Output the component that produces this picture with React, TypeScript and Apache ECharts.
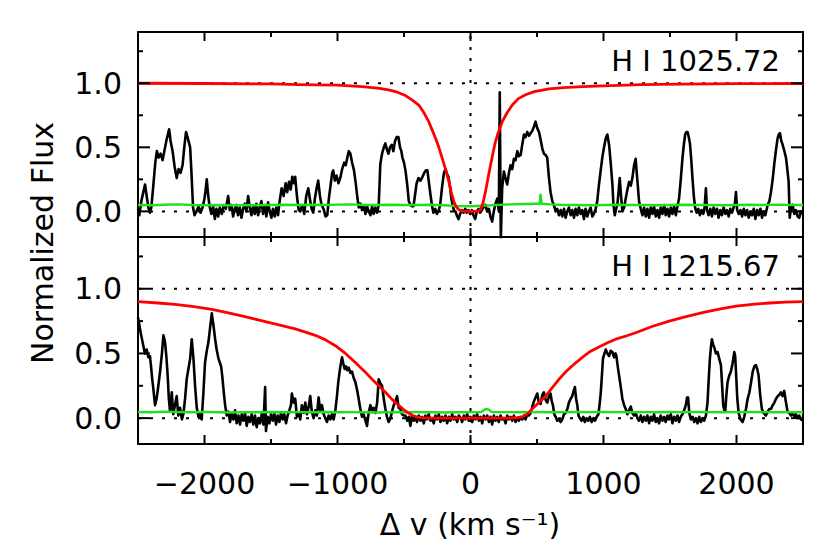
import React, { useEffect, useRef } from "react";
import * as echarts from "echarts";

// ---- Data ----
const xMajorTicks = [-2000, -1000, 0, 1000, 2000];
const xMinorTicks = [-1500, -500, 500, 1500];
const yMajorTicks = [0, 0.5, 1.0];
const yMinorTicks = [0.25, 0.75, 1.25];

const topLabel = "H I 1025.72";
const bottomLabel = "H I 1215.67";

// H I 1025.72 (Ly-beta) observed flux
const lybFlux = [
  [-2500, 0.02], [-2490, -0.03], [-2475, 0.08], [-2460, 0.15], [-2447, 0.21], [-2435, 0.12], [-2420, 0.02], [-2410, -0.01],
  [-2400, 0.03], [-2385, 0.2], [-2370, 0.38], [-2358, 0.47], [-2345, 0.42], [-2330, 0.45], [-2315, 0.4], [-2300, 0.48],
  [-2285, 0.56], [-2266, 0.64], [-2255, 0.55], [-2240, 0.47], [-2225, 0.35], [-2209, 0.26], [-2195, 0.33], [-2180, 0.3],
  [-2165, 0.36], [-2152, 0.5], [-2139, 0.62], [-2125, 0.57], [-2108, 0.5], [-2098, 0.3], [-2086, 0.03], [-2075, -0.03],
  [-2060, 0.0], [-2045, 0.04], [-2030, -0.01], [-2015, 0.03], [-2000, 0.1], [-1990, 0.18], [-1983, 0.25], [-1972, 0.12],
  [-1960, 0.03], [-1948, -0.02], [-1935, 0.04], [-1922, -0.06], [-1910, 0.02], [-1897, -0.04], [-1885, 0.03], [-1870, -0.02],
  [-1855, 0.05], [-1840, 0.02], [-1822, 0.12], [-1810, 0.01], [-1797, 0.05], [-1785, -0.04], [-1772, 0.02], [-1760, 0.05],
  [-1748, -0.03], [-1735, 0.03], [-1722, -0.05], [-1710, 0.02], [-1697, 0.06], [-1685, 0.0], [-1672, 0.12], [-1660, 0.03],
  [-1647, -0.03], [-1635, 0.04], [-1622, -0.02], [-1610, 0.06], [-1597, -0.03], [-1585, 0.03], [-1572, 0.08], [-1560, -0.02],
  [-1547, 0.05], [-1535, -0.04], [-1522, 0.07], [-1510, 0.0], [-1497, -0.05], [-1485, 0.02], [-1472, -0.04], [-1460, 0.03],
  [-1447, -0.03], [-1435, 0.08], [-1420, 0.18], [-1405, 0.12], [-1390, 0.22], [-1378, 0.15], [-1365, 0.23], [-1352, 0.17],
  [-1340, 0.27], [-1328, 0.22], [-1318, 0.27], [-1305, 0.12], [-1292, 0.01], [-1280, 0.0], [-1265, 0.05], [-1250, -0.02],
  [-1235, 0.12], [-1220, 0.18], [-1208, 0.1], [-1195, 0.02], [-1182, -0.01], [-1170, 0.1], [-1157, 0.18], [-1145, 0.24],
  [-1132, 0.12], [-1120, 0.05], [-1105, 0.02], [-1090, -0.04], [-1077, -0.03], [-1065, 0.1], [-1050, 0.22], [-1040, 0.3],
  [-1032, 0.32], [-1020, 0.24], [-1007, 0.28], [-993, 0.22], [-979, 0.26], [-965, 0.33], [-950, 0.38], [-938, 0.36],
  [-926, 0.42], [-915, 0.47], [-903, 0.45], [-890, 0.38], [-876, 0.32], [-863, 0.22], [-851, 0.11], [-840, 0.03],
  [-828, 0.06], [-815, 0.01], [-803, 0.05], [-790, -0.02], [-778, 0.04], [-765, 0.0], [-752, -0.03], [-740, 0.04],
  [-728, -0.02], [-715, 0.03], [-703, -0.01], [-690, 0.05], [-678, 0.37], [-665, 0.45], [-652, 0.5], [-640, 0.53],
  [-628, 0.48], [-617, 0.45], [-605, 0.5], [-592, 0.52], [-580, 0.47], [-567, 0.55], [-555, 0.58], [-542, 0.58],
  [-530, 0.5], [-520, 0.47], [-512, 0.42], [-500, 0.38], [-489, 0.32], [-475, 0.2], [-464, 0.08], [-452, 0.05],
  [-440, 0.04], [-429, 0.04], [-418, 0.12], [-405, 0.22], [-391, 0.26], [-376, 0.24], [-361, 0.27], [-348, 0.3],
  [-336, 0.32], [-324, 0.32], [-312, 0.22], [-301, 0.13], [-290, 0.05], [-279, -0.01], [-265, 0.02], [-253, -0.02],
  [-241, 0.0], [-228, 0.05], [-215, 0.18], [-200, 0.3], [-188, 0.33], [-176, 0.29], [-166, 0.27], [-155, 0.2],
  [-145, 0.11], [-133, 0.04], [-122, 0.0], [-113, 0.0], [-100, -0.04], [-90, -0.06], [-78, -0.02], [-65, 0.01],
  [-52, -0.01], [-40, 0.02], [-28, -0.01], [-15, 0.01], [-3, -0.02], [10, 0.01], [22, -0.03], [35, -0.06],
  [48, 0.0], [60, 0.02], [72, -0.01], [85, 0.01], [98, 0.03], [113, 0.05], [125, 0.0], [138, 0.02],
  [150, -0.04], [163, -0.08], [175, 0.0], [188, 0.06], [201, 0.1], [213, 0.0], [220, 0.93], [228, -0.22],
  [238, 0.18], [251, 0.31], [263, 0.26], [276, 0.21], [289, 0.3], [301, 0.36], [314, 0.33], [326, 0.41],
  [339, 0.4], [352, 0.47], [364, 0.43], [377, 0.44], [389, 0.52], [402, 0.6], [414, 0.58], [427, 0.62],
  [440, 0.59], [452, 0.61], [465, 0.63], [477, 0.66], [489, 0.7], [502, 0.65], [515, 0.62], [527, 0.56],
  [540, 0.49], [552, 0.45], [565, 0.44], [577, 0.42], [590, 0.26], [602, 0.15], [615, 0.08], [627, 0.05],
  [640, 0.0], [652, 0.02], [665, -0.03], [678, 0.01], [690, -0.04], [703, 0.02], [715, -0.05], [728, 0.0],
  [740, 0.03], [753, -0.03], [765, 0.01], [778, -0.05], [790, 0.02], [803, -0.03], [815, 0.03], [828, -0.02],
  [840, 0.01], [853, -0.06], [865, 0.02], [878, -0.04], [890, 0.0], [903, 0.03], [916, -0.04], [928, -0.02],
  [941, 0.02], [953, 0.08], [966, 0.21], [979, 0.32], [991, 0.42], [1004, 0.5], [1017, 0.57], [1029, 0.6],
  [1042, 0.52], [1054, 0.38], [1067, 0.21], [1075, 0.05], [1085, -0.03], [1095, 0.02], [1104, 0.05], [1113, 0.15],
  [1122, 0.26], [1132, 0.12], [1142, 0.0], [1155, 0.03], [1167, 0.1], [1180, 0.17], [1192, 0.23], [1205, 0.2],
  [1217, 0.26], [1230, 0.36], [1242, 0.41], [1250, 0.3], [1258, 0.2], [1267, 0.08], [1280, 0.02], [1293, -0.03],
  [1305, 0.03], [1318, -0.04], [1330, 0.02], [1343, -0.05], [1355, 0.03], [1368, -0.02], [1380, 0.04], [1393, -0.04],
  [1405, 0.01], [1418, -0.05], [1430, 0.03], [1443, -0.02], [1456, 0.05], [1468, -0.03], [1481, 0.02], [1493, -0.04],
  [1506, 0.03], [1518, -0.02], [1531, 0.04], [1544, -0.03], [1556, 0.04], [1568, 0.1], [1581, 0.25], [1594, 0.42],
  [1604, 0.52], [1614, 0.6], [1623, 0.62], [1632, 0.62], [1641, 0.58], [1650, 0.53], [1660, 0.4], [1669, 0.26],
  [1679, 0.12], [1689, 0.03], [1700, -0.01], [1713, 0.02], [1725, -0.03], [1737, 0.01], [1750, -0.02], [1760, 0.03],
  [1770, 0.18], [1778, 0.01], [1790, -0.03], [1803, 0.02], [1815, -0.04], [1828, 0.03], [1840, -0.02], [1853, 0.02],
  [1865, -0.05], [1878, 0.01], [1890, -0.03], [1903, 0.03], [1916, -0.02], [1928, 0.01], [1941, -0.04], [1953, 0.02],
  [1966, -0.01], [1978, 0.03], [1988, 0.06], [1996, 0.15], [2005, 0.01], [2017, -0.02], [2030, 0.01], [2042, -0.04],
  [2055, 0.02], [2067, -0.03], [2080, 0.01], [2092, -0.05], [2105, 0.0], [2117, -0.03], [2130, 0.02], [2142, -0.06],
  [2155, 0.01], [2167, -0.03], [2180, 0.02], [2192, -0.05], [2205, 0.0], [2217, -0.03], [2234, 0.05], [2247, 0.08],
  [2259, 0.15], [2272, 0.25], [2284, 0.37], [2297, 0.48], [2309, 0.57], [2318, 0.6], [2327, 0.61], [2337, 0.55],
  [2347, 0.52], [2360, 0.47], [2372, 0.42], [2382, 0.33], [2392, 0.23], [2400, -0.05], [2410, 0.03], [2422, 0.05],
  [2435, -0.02], [2447, 0.01], [2460, -0.04], [2472, -0.05], [2485, 0.0], [2500, -0.02],
];

// Ly-beta flux error
const lybError = [
  [-2500, 0.05], [-2400, 0.048], [-2300, 0.052], [-2200, 0.055], [-2100, 0.05], [-2000, 0.048], [-1900, 0.05],
  [-1800, 0.047], [-1700, 0.05], [-1600, 0.048], [-1500, 0.05], [-1400, 0.052], [-1300, 0.05], [-1200, 0.052],
  [-1100, 0.05], [-1000, 0.053], [-900, 0.055], [-800, 0.05], [-700, 0.05], [-600, 0.052], [-500, 0.05],
  [-400, 0.05], [-300, 0.052], [-200, 0.048], [-100, 0.042], [0, 0.04], [100, 0.045], [200, 0.05], [300, 0.055],
  [400, 0.058], [500, 0.06], [520, 0.06], [527, 0.13], [535, 0.06], [600, 0.055], [700, 0.05], [800, 0.05],
  [900, 0.048], [1000, 0.05], [1100, 0.052], [1200, 0.05], [1300, 0.05], [1400, 0.048], [1500, 0.05],
  [1600, 0.052], [1700, 0.05], [1800, 0.05], [1900, 0.048], [2000, 0.05], [2100, 0.052], [2200, 0.05],
  [2300, 0.053], [2400, 0.05], [2500, 0.05],
];

// Ly-beta model
const lybModel = [
  [-2500, 1.0], [-2000, 0.998], [-1500, 0.995], [-1300, 0.99], [-1000, 0.985], [-815, 0.974], [-700, 0.962], [-615, 0.948],
  [-550, 0.93], [-489, 0.904], [-440, 0.87], [-389, 0.83], [-350, 0.77], [-314, 0.7], [-290, 0.64], [-263, 0.57], [-238, 0.5],
  [-213, 0.415], [-188, 0.33], [-163, 0.234], [-145, 0.15], [-126, 0.078], [-110, 0.04], [-88, 0.013], [-60, 0.002],
  [-30, 0.0], [0, 0.0], [40, 0.0], [60, 0.004], [75, 0.013], [95, 0.07], [113, 0.156], [132, 0.26], [151, 0.363], [170, 0.46],
  [188, 0.545], [210, 0.62], [239, 0.7], [275, 0.77], [314, 0.83], [360, 0.88], [414, 0.91], [480, 0.935],
  [590, 0.956], [700, 0.966], [841, 0.974], [1000, 0.98], [1280, 0.99], [1600, 0.993], [2000, 0.997], [2500, 0.998],
];

// H I 1215.67 (Ly-alpha) observed flux
const lyaFlux = [
  [-2500, 0.78], [-2490, 0.72], [-2478, 0.65], [-2468, 0.6], [-2460, 0.56], [-2448, 0.5], [-2435, 0.53], [-2422, 0.47],
  [-2410, 0.48], [-2402, 0.4], [-2393, 0.3], [-2385, 0.23], [-2372, 0.1], [-2360, 0.15], [-2347, 0.25], [-2334, 0.36],
  [-2320, 0.5], [-2309, 0.64], [-2297, 0.59], [-2287, 0.48], [-2277, 0.33], [-2268, 0.15], [-2259, 0.05], [-2246, 0.2],
  [-2235, 0.03], [-2222, 0.1], [-2209, 0.17], [-2197, 0.02], [-2184, 0.08], [-2170, -0.01], [-2159, 0.03], [-2146, 0.15],
  [-2134, 0.3], [-2121, 0.38], [-2108, 0.46], [-2096, 0.61], [-2083, 0.46], [-2071, 0.25], [-2058, 0.08], [-2046, 0.01],
  [-2034, 0.03], [-2021, -0.01], [-2008, 0.2], [-1996, 0.43], [-1983, 0.52], [-1970, 0.59], [-1958, 0.7], [-1945, 0.81],
  [-1933, 0.72], [-1920, 0.61], [-1907, 0.52], [-1895, 0.46], [-1885, 0.43], [-1875, 0.4], [-1866, 0.32], [-1858, 0.23],
  [-1845, 0.1], [-1833, 0.02], [-1820, 0.05], [-1808, -0.03], [-1795, 0.04], [-1783, -0.01], [-1770, 0.06], [-1758, -0.04],
  [-1745, 0.02], [-1733, -0.05], [-1720, 0.03], [-1708, -0.02], [-1695, 0.04], [-1683, -0.06], [-1670, 0.01], [-1658, -0.03],
  [-1645, 0.03], [-1633, -0.05], [-1620, 0.02], [-1608, -0.07], [-1595, 0.0], [-1583, -0.04], [-1570, 0.03], [-1557, -0.05],
  [-1544, 0.24], [-1538, -0.1], [-1525, 0.01], [-1512, -0.04], [-1500, 0.03], [-1487, -0.02], [-1475, 0.04], [-1462, -0.05],
  [-1450, 0.02], [-1437, -0.03], [-1425, 0.04], [-1412, -0.01], [-1400, 0.03], [-1387, -0.04], [-1375, 0.02], [-1362, 0.06],
  [-1350, 0.1], [-1343, 0.19], [-1330, 0.12], [-1318, 0.15], [-1305, 0.01], [-1292, 0.04], [-1280, -0.01], [-1268, 0.1],
  [-1255, 0.04], [-1242, 0.12], [-1230, 0.03], [-1218, 0.08], [-1205, 0.17], [-1193, 0.05], [-1180, 0.0], [-1167, 0.06],
  [-1155, 0.02], [-1142, 0.16], [-1130, 0.06], [-1117, 0.1], [-1104, 0.03], [-1092, 0.0], [-1079, -0.03], [-1067, 0.02],
  [-1054, -0.01], [-1042, 0.03], [-1029, -0.01], [-1016, 0.06], [-1004, 0.17], [-994, 0.28], [-984, 0.36], [-975, 0.42],
  [-966, 0.47], [-956, 0.42], [-946, 0.38], [-936, 0.4], [-926, 0.37], [-916, 0.39], [-903, 0.35], [-891, 0.36],
  [-878, 0.31], [-866, 0.28], [-853, 0.22], [-841, 0.15], [-828, 0.07], [-816, 0.01], [-803, 0.03], [-790, -0.02],
  [-778, -0.06], [-766, 0.04], [-753, 0.1], [-741, 0.06], [-728, 0.08], [-715, 0.04], [-702, 0.12], [-690, 0.3],
  [-678, 0.27], [-665, 0.25], [-652, 0.15], [-640, 0.07], [-628, 0.01], [-615, -0.03], [-602, 0.0], [-590, 0.05],
  [-577, 0.1], [-565, 0.13], [-552, 0.17], [-540, 0.08], [-527, 0.07], [-515, 0.03], [-502, 0.02], [-489, 0.02],
  [-476, -0.02], [-464, 0.01], [-452, -0.06], [-440, 0.02], [-427, -0.02], [-414, 0.01], [-402, -0.03], [-389, 0.02],
  [-376, -0.02], [-364, 0.01], [-351, -0.04], [-339, 0.02], [-326, -0.01], [-314, 0.03], [-301, -0.02], [-289, 0.0],
  [-276, -0.04], [-264, 0.02], [-251, -0.01], [-238, 0.03], [-226, -0.03], [-213, 0.01], [-201, -0.02], [-188, 0.02],
  [-176, -0.04], [-163, 0.01], [-151, -0.02], [-138, 0.03], [-126, -0.01], [-113, 0.01], [-100, -0.03], [-88, 0.02],
  [-75, 0.0], [-63, -0.03], [-50, 0.02], [-38, -0.01], [-25, 0.03], [-13, -0.02], [0, 0.01], [13, -0.03],
  [25, 0.02], [38, -0.01], [50, 0.03], [63, -0.02], [75, 0.01], [88, -0.04], [100, 0.02], [113, -0.01],
  [126, 0.02], [138, -0.03], [151, 0.01], [163, -0.05], [176, 0.02], [188, -0.02], [201, 0.01], [213, -0.03],
  [226, 0.02], [238, -0.01], [251, 0.0], [264, -0.04], [276, 0.02], [289, -0.01], [301, 0.01], [314, -0.02],
  [326, 0.02], [339, -0.03], [351, 0.0], [364, -0.02], [376, 0.01], [389, -0.01], [401, 0.02], [414, -0.01],
  [427, 0.03], [439, 0.02], [452, 0.04], [464, 0.085], [477, 0.13], [489, 0.16], [502, 0.19], [514, 0.12],
  [527, 0.11], [540, 0.18], [552, 0.2], [565, 0.14], [577, 0.12], [590, 0.17], [602, 0.19], [611, 0.13],
  [620, 0.1], [630, 0.03], [640, 0.01], [652, -0.02], [665, -0.01], [678, -0.03], [690, -0.01], [703, 0.03],
  [715, 0.04], [728, 0.07], [740, 0.12], [753, 0.15], [765, 0.17], [775, 0.21], [785, 0.24], [794, 0.15],
  [803, 0.1], [812, 0.02], [822, 0.0], [835, -0.02], [848, 0.01], [860, -0.03], [873, 0.0], [886, -0.02],
  [898, 0.01], [911, -0.03], [924, 0.0], [936, -0.02], [949, 0.01], [962, 0.03], [970, 0.1], [979, 0.19],
  [988, 0.33], [996, 0.46], [1007, 0.5], [1017, 0.53], [1029, 0.5], [1042, 0.48], [1054, 0.52], [1067, 0.51],
  [1080, 0.47], [1090, 0.5], [1097, 0.48], [1107, 0.4], [1117, 0.33], [1130, 0.24], [1142, 0.15], [1155, 0.1],
  [1167, 0.07], [1180, 0.03], [1192, 0.06], [1205, 0.09], [1217, 0.04], [1230, 0.02], [1242, 0.04], [1255, 0.0],
  [1267, -0.02], [1280, 0.02], [1292, -0.03], [1305, 0.01], [1318, -0.02], [1330, 0.02], [1343, -0.04], [1355, 0.01],
  [1368, -0.02], [1380, 0.03], [1393, -0.03], [1405, 0.0], [1418, -0.04], [1430, 0.02], [1443, -0.02], [1456, 0.01],
  [1468, -0.03], [1481, 0.02], [1493, -0.01], [1506, 0.03], [1518, -0.04], [1531, 0.01], [1544, -0.02], [1556, 0.02],
  [1568, -0.03], [1581, 0.01], [1594, 0.03], [1606, 0.06], [1619, 0.1], [1628, 0.16], [1636, 0.16], [1645, 0.04],
  [1657, -0.01], [1670, 0.01], [1682, -0.03], [1695, 0.0], [1707, -0.04], [1720, 0.01], [1732, -0.03], [1745, 0.0],
  [1757, -0.02], [1770, 0.02], [1782, 0.12], [1791, 0.3], [1800, 0.46], [1808, 0.55], [1815, 0.61], [1824, 0.57],
  [1832, 0.55], [1845, 0.5], [1858, 0.51], [1870, 0.46], [1883, 0.41], [1892, 0.25], [1900, 0.1], [1908, 0.06],
  [1915, 0.05], [1924, 0.18], [1933, 0.28], [1946, 0.33], [1958, 0.36], [1970, 0.42], [1983, 0.51], [1990, 0.48],
  [1996, 0.36], [2006, 0.15], [2016, 0.04], [2030, -0.01], [2046, -0.03], [2058, 0.01], [2071, 0.07], [2084, 0.15],
  [2097, 0.2], [2110, 0.28], [2122, 0.36], [2134, 0.4], [2146, 0.41], [2156, 0.38], [2166, 0.33], [2178, 0.18],
  [2191, 0.07], [2203, 0.04], [2221, 0.02], [2234, 0.05], [2246, 0.07], [2259, 0.07], [2272, 0.1], [2285, 0.12],
  [2297, 0.15], [2310, 0.17], [2322, 0.18], [2334, 0.2], [2347, 0.17], [2359, 0.21], [2372, 0.12], [2384, 0.05],
  [2397, 0.04], [2410, 0.02], [2422, 0.04], [2435, 0.01], [2447, 0.03], [2460, 0.0], [2472, 0.02], [2485, -0.01],
  [2500, -0.02],
];

// Ly-alpha flux error
const lyaError = [
  [-2500, 0.047], [-2400, 0.045], [-2300, 0.05], [-2200, 0.046], [-2100, 0.045], [-2000, 0.048], [-1900, 0.045],
  [-1800, 0.044], [-1700, 0.046], [-1600, 0.045], [-1500, 0.047], [-1400, 0.045], [-1300, 0.046], [-1200, 0.045],
  [-1100, 0.047], [-1000, 0.045], [-900, 0.046], [-800, 0.045], [-700, 0.044], [-600, 0.046], [-500, 0.045],
  [-400, 0.046], [-300, 0.045], [-200, 0.044], [-100, 0.045], [0, 0.046], [80, 0.047], [113, 0.07], [135, 0.068],
  [160, 0.047], [300, 0.046], [400, 0.045], [500, 0.046], [600, 0.045], [700, 0.046], [800, 0.047], [900, 0.046],
  [1000, 0.047], [1100, 0.046], [1200, 0.045], [1300, 0.046], [1400, 0.045], [1500, 0.047], [1600, 0.046],
  [1700, 0.047], [1800, 0.046], [1900, 0.045], [2000, 0.046], [2100, 0.047], [2200, 0.046], [2300, 0.045],
  [2400, 0.046], [2500, 0.045],
];

// Ly-alpha damped model
const lyaModel = [
  [-2500, 0.9], [-2350, 0.89], [-2221, 0.88], [-2080, 0.862], [-1945, 0.84], [-1830, 0.815], [-1720, 0.79],
  [-1620, 0.765], [-1519, 0.74], [-1418, 0.715], [-1318, 0.69], [-1240, 0.665], [-1167, 0.64], [-1090, 0.605],
  [-1016, 0.56], [-940, 0.5], [-866, 0.43], [-800, 0.365], [-740, 0.3], [-690, 0.25], [-640, 0.2], [-590, 0.145],
  [-540, 0.098], [-490, 0.055], [-439, 0.022], [-400, 0.008], [-364, 0.002], [-320, 0.0], [0, 0.0], [300, 0.0],
  [350, 0.003], [389, 0.01], [430, 0.035], [464, 0.07], [515, 0.12], [565, 0.17], [615, 0.235], [665, 0.3],
  [715, 0.356], [765, 0.405], [841, 0.47], [900, 0.515], [966, 0.55], [1030, 0.582], [1092, 0.61], [1170, 0.635],
  [1242, 0.66], [1370, 0.71], [1494, 0.75], [1620, 0.785], [1745, 0.815], [1870, 0.842], [1996, 0.865],
  [2120, 0.88], [2247, 0.89], [2370, 0.897], [2500, 0.9],
];

const FONT = "DejaVu Sans";
const xMin = -2500;
const xMax = 2500;
const yMin = -0.2;
const yMax = 1.4;
const GRID_W = 665;
const GRID_H = [205, 207];

function xAxisDef(gridIndex: number, position: string, labels: boolean) {
  return {
    type: "value",
    gridIndex,
    position,
    min: xMin,
    max: xMax,
    axisLine: { show: true, onZero: false, lineStyle: { color: "#000", width: 2 } },
    splitLine: { show: false },
    axisTick: { show: false },
    axisLabel: labels
      ? {
          show: true,
          customValues: xMajorTicks,
          margin: 24,
          fontFamily: FONT,
          fontSize: 30,
          color: "#000",
          formatter: (v: number) => (v < 0 ? "\u2212" + Math.abs(v) : String(v)),
        }
      : { show: false },
  };
}

function yAxisDef(gridIndex: number, position: string, labels: boolean) {
  return {
    type: "value",
    gridIndex,
    position,
    min: yMin,
    max: yMax,
    axisLine: { show: true, onZero: false, lineStyle: { color: "#000", width: 2 } },
    splitLine: { show: false },
    axisTick: { show: false },
    axisLabel: labels
      ? {
          show: true,
          customValues: yMajorTicks,
          margin: 16,
          fontFamily: FONT,
          fontSize: 30,
          color: "#000",
          formatter: (v: number) => v.toFixed(1),
        }
      : { show: false },
  };
}

function lineSeries(data: number[][], g: number, color: string, width: number, type: any = "solid", z = 2, clip = true) {
  return {
    type: "line",
    xAxisIndex: g * 2,
    yAxisIndex: g * 2,
    data,
    symbol: "none",
    silent: true,
    clip,
    z,
    lineStyle: { color, width, type, join: "round", cap: "butt" },
  };
}

// Inward tick marks on all four sides, each one a short segment placed on the axes' scales
function tickSeriesList(g: number) {
  const pxX = GRID_W / (xMax - xMin);
  const pxY = GRID_H[g] / (yMax - yMin);
  const list: any[] = [];
  const add = (a: number[], b: number[]) => list.push(lineSeries([a, b], g, "#000", 2, "solid", 6, false));
  const xLen = (major: boolean) => (major ? 9 : 5) / pxY;
  const yLen = (major: boolean) => (major ? 12 : 5) / pxX;
  xMajorTicks.forEach((v) => {
    add([v, yMin], [v, yMin + xLen(true)]);
    add([v, yMax], [v, yMax - xLen(true)]);
  });
  xMinorTicks.forEach((v) => {
    add([v, yMin], [v, yMin + xLen(false)]);
    add([v, yMax], [v, yMax - xLen(false)]);
  });
  yMajorTicks.forEach((v) => {
    add([xMin, v], [xMin + yLen(true), v]);
    add([xMax, v], [xMax - yLen(true), v]);
  });
  yMinorTicks.forEach((v) => {
    add([xMin, v], [xMin + yLen(false), v]);
    add([xMax, v], [xMax - yLen(false), v]);
  });
  return list;
}

export default function App() {
  const ref = useRef<HTMLDivElement>(null);
  useEffect(() => {
    if (!ref.current) return;
    const chart = echarts.init(ref.current, null, { renderer: "svg" });
    const xAxes: any[] = [];
    const yAxes: any[] = [];
    [0, 1].forEach((g) => {
      xAxes.push(xAxisDef(g, "bottom", g === 1));
      xAxes.push(xAxisDef(g, "top", false));
      yAxes.push(yAxisDef(g, "left", true));
      yAxes.push(yAxisDef(g, "right", false));
    });
    const dotted = [3, 9];
    const series: any[] = [];
    const panels = [
      { flux: lybFlux, err: lybError, model: lybModel },
      { flux: lyaFlux, err: lyaError, model: lyaModel },
    ];
    panels.forEach((p, g) => {
      series.push(lineSeries([[xMin, 1], [xMax, 1]], g, "#000", 2, dotted, 1));
      series.push(lineSeries([[xMin, 0], [xMax, 0]], g, "#000", 2, dotted, 1));
      series.push(lineSeries([[0, yMin], [0, yMax]], g, "#000", 2, [3, 8], 1));
      series.push(lineSeries(p.flux, g, "#000", 2.6, "solid", 2));
      series.push(lineSeries(p.err, g, "#1ee01e", 2.4, "solid", 3));
      series.push(lineSeries(p.model, g, "#ff0000", 2.8, "solid", 4));
      series.push(...tickSeriesList(g));
    });
    chart.setOption({
      animation: false,
      backgroundColor: "#fff",
      grid: [
        { left: 138, top: 32, width: GRID_W, height: GRID_H[0], show: false },
        { left: 138, top: 237, width: GRID_W, height: GRID_H[1], show: false },
      ],
      xAxis: xAxes,
      yAxis: yAxes,
      series,
      graphic: [
        {
          type: "text",
          x: 780,
          y: 61,
          style: { text: topLabel, fontFamily: FONT, fontSize: 29, fill: "#000", align: "right", verticalAlign: "middle" },
        },
        {
          type: "text",
          x: 780,
          y: 266,
          style: { text: bottomLabel, fontFamily: FONT, fontSize: 29, fill: "#000", align: "right", verticalAlign: "middle" },
        },
        {
          type: "text",
          x: 42,
          y: 243,
          rotation: Math.PI / 2,
          style: { text: "Normalized Flux", fontFamily: FONT, fontSize: 30, fill: "#000", align: "center", verticalAlign: "middle" },
        },
        {
          type: "text",
          x: 470,
          y: 524,
          style: { text: "\u0394 v (km s\u207B\u00B9)", fontFamily: FONT, fontSize: 30, fill: "#000", align: "center", verticalAlign: "middle" },
        },
      ],
    });
    return () => chart.dispose();
  }, []);
  return (
    <div
      ref={ref}
      style={{ position: "fixed", left: 0, top: 0, width: 830, height: 553, background: "#fff" }}
    />
  );
}
